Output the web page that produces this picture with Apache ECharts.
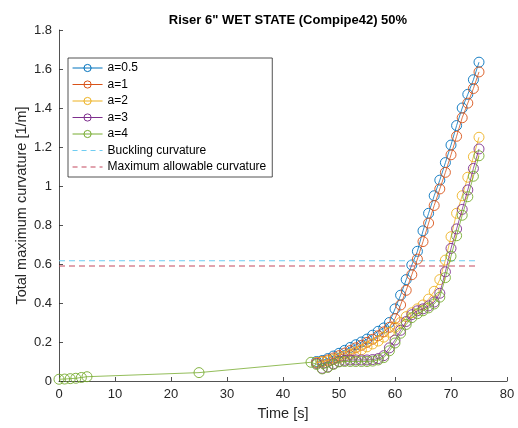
<!DOCTYPE html>
<html>
<head>
<meta charset="utf-8">
<script src="https://cdn.jsdelivr.net/npm/echarts@6/dist/echarts.min.js"></script>
<style>html,body{margin:0;padding:0;background:#fff}#c{width:518px;height:428px}</style>
</head>
<body>
<div id="c"></div>
<script>
const timeMain = [46,47,48,49,50,51,52,53,54,55,56,57,58,59,60,61,62,63,64,65,66,67,68,69,70,71,72,73,74,75];
const timeEarly = [0,1,2,3,4,5,25,45];
const a05 = [0.100,0.105,0.115,0.128,0.142,0.157,0.172,0.186,0.200,0.215,0.235,0.255,0.272,0.300,0.370,0.440,0.520,0.595,0.665,0.770,0.860,0.950,1.030,1.120,1.210,1.310,1.400,1.470,1.545,1.635];
const a1  = [0.095,0.100,0.108,0.118,0.130,0.143,0.156,0.170,0.183,0.198,0.214,0.232,0.252,0.275,0.320,0.390,0.465,0.545,0.625,0.715,0.810,0.900,0.985,1.070,1.160,1.255,1.350,1.425,1.500,1.585];
const a2  = [0.095,0.098,0.103,0.110,0.118,0.127,0.137,0.148,0.160,0.175,0.190,0.205,0.225,0.250,0.275,0.300,0.330,0.350,0.370,0.390,0.420,0.460,0.520,0.620,0.740,0.860,0.950,1.045,1.150,1.250];
const a3  = [0.090,0.065,0.072,0.088,0.100,0.106,0.108,0.108,0.108,0.108,0.110,0.115,0.130,0.170,0.210,0.260,0.305,0.340,0.360,0.370,0.385,0.405,0.450,0.560,0.680,0.780,0.880,0.980,1.090,1.190];
const a4Early = [0.009,0.010,0.012,0.014,0.018,0.022,0.043,0.096];
const a4  = [0.085,0.062,0.070,0.085,0.098,0.100,0.100,0.100,0.100,0.100,0.102,0.108,0.120,0.155,0.195,0.245,0.290,0.325,0.345,0.360,0.375,0.395,0.430,0.530,0.640,0.745,0.850,0.945,1.050,1.155];
const limitTime = [0,75];
const bucklingCurvature = 0.617;
const allowableCurvature = 0.590;
const seriesNames = ['a=0.5','a=1','a=2','a=3','a=4'];
const limitNames = ['Buckling curvature','Maximum allowable curvature'];
const xTicks = {min:0,max:80,interval:10};
const yTicks = {min:0,max:1.8,interval:0.2};

const colors = ['#0072BD','#D95319','#EDB120','#7E2F8E','#77AC30'];
const limitColors = ['#6fcdf2','#c4485e'];
const font = 'Liberation Sans, Arial, Helvetica, sans-serif';
function pairs(t, v){ return t.map((x,i)=>[x, v[i]]); }
const seriesData = [pairs(timeMain,a05), pairs(timeMain,a1), pairs(timeMain,a2), pairs(timeMain,a3), pairs(timeEarly.concat(timeMain), a4Early.concat(a4))];

const series = seriesData.map((d,i)=>({
  name: seriesNames[i], type:'line', data:d, symbol:'circle', symbolSize:10,
  itemStyle:{color:'rgba(255,255,255,0)', borderColor:colors[i], borderWidth:0.9},
  lineStyle:{color:colors[i], width:0.8}, z: 2+i, animation:false
}));
series.push({name:limitNames[0], type:'line', symbol:'none', data: limitTime.map(t=>[t,bucklingCurvature]),
  lineStyle:{color:limitColors[0], width:1.1, type:[6,4]}, itemStyle:{color:limitColors[0]}, animation:false});
series.push({name:limitNames[1], type:'line', symbol:'none', data: limitTime.map(t=>[t,allowableCurvature]),
  lineStyle:{color:limitColors[1], width:1.1, type:[6,4]}, itemStyle:{color:limitColors[1]}, animation:false});

const legendData = seriesNames.map(n=>({name:n}))
  .concat(limitNames.map((n,i)=>({name:n, itemStyle:{opacity:0, color:'rgba(0,0,0,0)', borderWidth:0},
    lineStyle:{color:limitColors[i], width:1.1, type:[5,4]}})));

const chart = echarts.init(document.getElementById('c'), null, {renderer:'canvas'});
chart.setOption({
  animation:false,
  backgroundColor:'#fff',
  title:{text:'Riser 6" WET STATE (Compipe42) 50%', left:283, top:9, textAlign:'center',
    textStyle:{fontFamily:font, fontSize:13, fontWeight:'bold', color:'#000'}},
  grid:{left:59, right:11, top:30, bottom:47, containLabel:false},
  legend:{orient:'vertical', left:68, top:58, padding:[4,6,4,4], itemGap:4.5, itemWidth:30, itemHeight:9,
    backgroundColor:'#fff', borderColor:'#262626', borderWidth:0.8,
    lineStyle:{width:1}, itemStyle:{borderWidth:1},
    textStyle:{fontFamily:font, fontSize:12, lineHeight:12, color:'#000'}, data:legendData},
  xAxis:{type:'value', min:xTicks.min, max:xTicks.max, interval:xTicks.interval, name:'Time [s]', nameLocation:'middle', nameGap:25,
    nameMoveOverlap:false,
    nameTextStyle:{fontFamily:font, fontSize:14.5, color:'#262626'},
    axisLine:{show:true, lineStyle:{color:'#262626', width:0.8}},
    axisTick:{show:true, inside:true, length:4, lineStyle:{color:'#262626', width:0.8}},
    axisLabel:{fontFamily:font, fontSize:13, color:'#262626', margin:7},
    splitLine:{show:false}},
  yAxis:{type:'value', min:yTicks.min, max:yTicks.max, interval:yTicks.interval, name:'Total maximum curvature [1/m]', nameLocation:'middle', nameGap:30,
    nameMoveOverlap:false,
    nameTextStyle:{fontFamily:font, fontSize:14.5, color:'#262626'},
    axisLine:{show:true, lineStyle:{color:'#262626', width:0.8}},
    axisTick:{show:true, inside:true, length:4, lineStyle:{color:'#262626', width:0.8}},
    axisLabel:{fontFamily:font, fontSize:13, color:'#262626', margin:7, formatter:v=>String(Math.round(v*10)/10)},
    splitLine:{show:false}},
  series: series
});
</script>
</body>
</html>
